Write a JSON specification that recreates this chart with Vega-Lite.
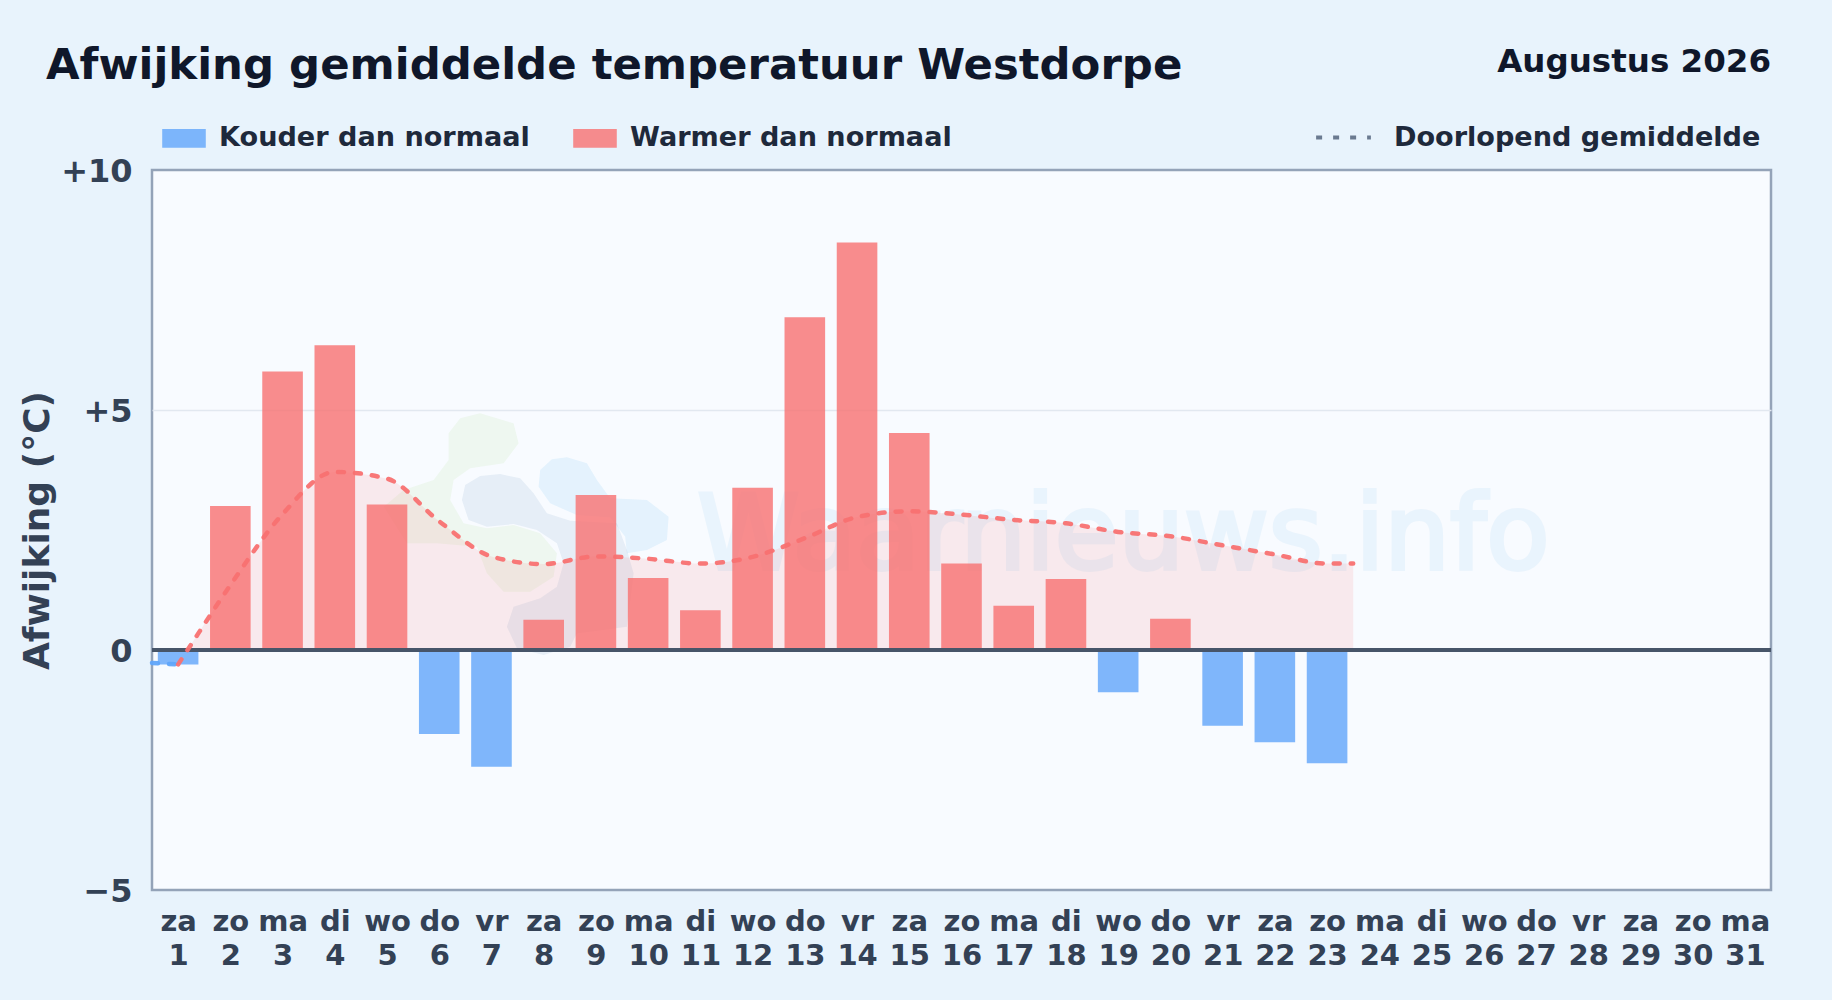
{
"$schema":"https://vega.github.io/schema/vega-lite/v6.json",
"width":1619,"height":720,
"autosize":{"type":"none"},
"padding":{"left":152,"top":170,"right":61,"bottom":110},
"background":"#e8f3fc",
"title":{"text":"Afwijking gemiddelde temperatuur Westdorpe","anchor":"start","frame":"group","dx":-106,"offset":0,"dy":76.5,"baseline":"alphabetic","font":"DejaVu Sans","fontWeight":"bold","fontSize":43.4,"color":"#0f172a"},
"config":{"view":{"fill":"#f8fbff","stroke":"#94a3b8","strokeWidth":2.5},"font":"DejaVu Sans"},
"datasets":{
"dagen":[
{"dag":1,"afwijking":-0.3,"soort":"Kouder dan normaal"},
{"dag":2,"afwijking":3.0,"soort":"Warmer dan normaal"},
{"dag":3,"afwijking":5.8,"soort":"Warmer dan normaal"},
{"dag":4,"afwijking":6.35,"soort":"Warmer dan normaal"},
{"dag":5,"afwijking":3.03,"soort":"Warmer dan normaal"},
{"dag":6,"afwijking":-1.75,"soort":"Kouder dan normaal"},
{"dag":7,"afwijking":-2.43,"soort":"Kouder dan normaal"},
{"dag":8,"afwijking":0.63,"soort":"Warmer dan normaal"},
{"dag":9,"afwijking":3.23,"soort":"Warmer dan normaal"},
{"dag":10,"afwijking":1.5,"soort":"Warmer dan normaal"},
{"dag":11,"afwijking":0.83,"soort":"Warmer dan normaal"},
{"dag":12,"afwijking":3.38,"soort":"Warmer dan normaal"},
{"dag":13,"afwijking":6.93,"soort":"Warmer dan normaal"},
{"dag":14,"afwijking":8.49,"soort":"Warmer dan normaal"},
{"dag":15,"afwijking":4.52,"soort":"Warmer dan normaal"},
{"dag":16,"afwijking":1.8,"soort":"Warmer dan normaal"},
{"dag":17,"afwijking":0.92,"soort":"Warmer dan normaal"},
{"dag":18,"afwijking":1.48,"soort":"Warmer dan normaal"},
{"dag":19,"afwijking":-0.88,"soort":"Kouder dan normaal"},
{"dag":20,"afwijking":0.65,"soort":"Warmer dan normaal"},
{"dag":21,"afwijking":-1.58,"soort":"Kouder dan normaal"},
{"dag":22,"afwijking":-1.92,"soort":"Kouder dan normaal"},
{"dag":23,"afwijking":-2.36,"soort":"Kouder dan normaal"}
],
"gemiddelde":[
{"dag":0.5,"gem":-0.27,"soort":"Kouder dan normaal","reeks":"Doorlopend gemiddelde"},
{"dag":1,"gem":-0.3,"soort":"Kouder dan normaal","reeks":"Doorlopend gemiddelde"},
{"dag":1,"gem":-0.3,"soort":"Warmer dan normaal","reeks":"Doorlopend gemiddelde"},
{"dag":1.18,"gem":0,"soort":"Warmer dan normaal","reeks":"Doorlopend gemiddelde"},
{"dag":2,"gem":1.35,"soort":"Warmer dan normaal","reeks":"Doorlopend gemiddelde"},
{"dag":3,"gem":2.83,"soort":"Warmer dan normaal","reeks":"Doorlopend gemiddelde"},
{"dag":4,"gem":3.71,"soort":"Warmer dan normaal","reeks":"Doorlopend gemiddelde"},
{"dag":5,"gem":3.57,"soort":"Warmer dan normaal","reeks":"Doorlopend gemiddelde"},
{"dag":6,"gem":2.68,"soort":"Warmer dan normaal","reeks":"Doorlopend gemiddelde"},
{"dag":7,"gem":1.95,"soort":"Warmer dan normaal","reeks":"Doorlopend gemiddelde"},
{"dag":8,"gem":1.79,"soort":"Warmer dan normaal","reeks":"Doorlopend gemiddelde"},
{"dag":9,"gem":1.95,"soort":"Warmer dan normaal","reeks":"Doorlopend gemiddelde"},
{"dag":10,"gem":1.9,"soort":"Warmer dan normaal","reeks":"Doorlopend gemiddelde"},
{"dag":11,"gem":1.8,"soort":"Warmer dan normaal","reeks":"Doorlopend gemiddelde"},
{"dag":12,"gem":1.94,"soort":"Warmer dan normaal","reeks":"Doorlopend gemiddelde"},
{"dag":13,"gem":2.33,"soort":"Warmer dan normaal","reeks":"Doorlopend gemiddelde"},
{"dag":14,"gem":2.77,"soort":"Warmer dan normaal","reeks":"Doorlopend gemiddelde"},
{"dag":15,"gem":2.89,"soort":"Warmer dan normaal","reeks":"Doorlopend gemiddelde"},
{"dag":16,"gem":2.82,"soort":"Warmer dan normaal","reeks":"Doorlopend gemiddelde"},
{"dag":17,"gem":2.71,"soort":"Warmer dan normaal","reeks":"Doorlopend gemiddelde"},
{"dag":18,"gem":2.64,"soort":"Warmer dan normaal","reeks":"Doorlopend gemiddelde"},
{"dag":19,"gem":2.46,"soort":"Warmer dan normaal","reeks":"Doorlopend gemiddelde"},
{"dag":20,"gem":2.37,"soort":"Warmer dan normaal","reeks":"Doorlopend gemiddelde"},
{"dag":21,"gem":2.18,"soort":"Warmer dan normaal","reeks":"Doorlopend gemiddelde"},
{"dag":22,"gem":1.99,"soort":"Warmer dan normaal","reeks":"Doorlopend gemiddelde"},
{"dag":23,"gem":1.8,"soort":"Warmer dan normaal","reeks":"Doorlopend gemiddelde"},
{"dag":23.5,"gem":1.8,"soort":"Warmer dan normaal","reeks":"Doorlopend gemiddelde"}
],
"logo":[{"dag":7.87,"w":2.43}]
},
"encoding":{
"x":{"field":"dag","type":"quantitative","scale":{"domain":[0.5,31.5],"nice":false,"zero":false,"padding":0},
"axis":{"values":[1,2,3,4,5,6,7,8,9,10,11,12,13,14,15,16,17,18,19,20,21,22,23,24,25,26,27,28,29,30,31],
"labelExpr":"[['za','zo','ma','di','wo','do','vr'][(datum.value-1)%7],''+datum.value]",
"title":null,"grid":false,"domain":false,"ticks":false,"labelOverlap":false,"labelFlush":false,"labelBound":false,"labelPadding":17,"labelFontSize":29,"labelLineHeight":34,"labelFont":"DejaVu Sans","labelFontWeight":"bold","labelColor":"#334155"}}
},
"layer":[
{"data":{"name":"logo"},"mark":{"type":"point","filled":true,"size":4,"color":"#a8d878","opacity":0.11,"shape":"M-56.7,-120L-23.3,-110L-18.3,-90L-33.3,-70L-66.7,-65L-83.3,-53.3L-86.7,-33.3L-73.3,-10L-50,-5L-23.3,-8.3L3.3,0L20,20L16.7,43.3L-6.7,58.3L-33.3,58.3L-50,40L-60,13.3L-100,10L-130,10L-153,-26.7L-133.3,-43.3L-103.3,-53.3L-88.3,-73.3L-88.3,-100L-76.7,-115Z"},"encoding":{"y":{"field":"w","type":"quantitative"}}},
{"data":{"name":"logo"},"mark":{"type":"point","filled":true,"size":4,"color":"#3a6ea5","opacity":0.09,"shape":"M-56.7,-57.3L-36.7,-59.3L-16.7,-55L-3.3,-40L10,-20L33.3,-12.7L80,-10L90,16.7L96.7,40L90,93.3L40,100L33.3,113.3L6.7,121.7L-20,115L-30,93.3L-23.3,73.3L3.3,65L20,53.3L26.7,30L20,10L0,-3.3L-23.3,-9.3L-50,-6.7L-68.3,-13.3L-75,-33.3L-71.7,-48.3Z"},"encoding":{"y":{"field":"w","type":"quantitative"}}},
{"data":{"name":"logo"},"mark":{"type":"point","filled":true,"size":4,"color":"#60b8f0","opacity":0.13,"shape":"M30,-76L50,-70L60,-53.3L73.3,-35L110,-33.3L131.7,-16.7L130,6.7L110,16.7L90,20L88.3,3.3L73.3,-16L40,-18.3L13.3,-30L1.7,-46.7L3.3,-63.3L15,-74Z"},"encoding":{"y":{"field":"w","type":"quantitative"}}},
{"data":{"values":[{"dag":19.1,"w":1.68,"tekst":"Waarnieuws.info"}]},"mark":{"type":"text","font":"DejaVu Sans","fontSize":103.5,"align":"center","baseline":"alphabetic","color":"#4aa8e8","stroke":"#4aa8e8","strokeWidth":4,"opacity":0.08},"encoding":{"y":{"field":"w","type":"quantitative"},"text":{"field":"tekst"}}},
{"data":{"name":"gemiddelde"},"transform":[{"filter":"datum.gem>=0"}],"mark":{"type":"area","interpolate":"monotone","color":"#f87171","opacity":0.13},"encoding":{"y":{"field":"gem","type":"quantitative"},"y2":{"datum":0}}},
{"data":{"name":"dagen"},"mark":{"type":"bar","width":40.6,"opacity":0.8},
"encoding":{
"y":{"field":"afwijking","type":"quantitative","scale":{"domain":[-5,10],"nice":false},
"axis":{"values":[-5,0,5,10],"labelExpr":"datum.value>0?'+'+datum.value:(datum.value<0?'\u2212'+abs(datum.value):'0')","title":"Afwijking (\u00b0C)","titleFont":"DejaVu Sans","titleFontWeight":"bold","titleFontSize":36,"titleColor":"#334155","titleX":-95.5,"titlePadding":10,"grid":true,"gridColor":{"condition":{"test":"datum.value===5","value":"#e2e8f0"},"value":"transparent"},"gridWidth":1.5,"domain":false,"ticks":false,"labelPadding":20,"labelOffset":1,"labelFontSize":32,"labelFont":"DejaVu Sans","labelFontWeight":"bold","labelColor":"#334155"}},
"y2":{"datum":0},
"color":{"field":"soort","type":"nominal","scale":{"domain":["Kouder dan normaal","Warmer dan normaal"],"range":["#60a5fa","#f87171"]},
"legend":{"title":null,"orient":"none","direction":"horizontal","legendX":10,"legendY":-54,"symbolType":"M-1,-0.43H1V0.43H-1Z","symbolSize":1900,"symbolOpacity":0.8,"symbolStrokeWidth":0,"labelFont":"DejaVu Sans","labelFontWeight":"bold","labelFontSize":27.1,"labelColor":"#1e293b","labelOffset":13,"columnPadding":43,"labelLimit":500}}
}},
{"data":{"values":[{"dag":0.5,"nul":0},{"dag":31.5,"nul":0}]},"mark":{"type":"line","color":"#475569","strokeWidth":4},"encoding":{"y":{"field":"nul","type":"quantitative"}}},
{"data":{"name":"gemiddelde"},"mark":{"type":"line","interpolate":"monotone","strokeWidth":4.5,"strokeCap":"round","opacity":0.95},
"encoding":{
"y":{"field":"gem","type":"quantitative"},
"stroke":{"field":"soort","type":"nominal","scale":{"domain":["Kouder dan normaal","Warmer dan normaal"],"range":["#60a5fa","#f87171"]},"legend":null},
"strokeDash":{"field":"reeks","type":"nominal","scale":{"domain":["Doorlopend gemiddelde"],"range":[[6,11]]},
"legend":{"title":null,"orient":"none","legendX":1162,"legendY":-62,"symbolType":"stroke","symbolSize":3000,"symbolStrokeColor":"#64748b","symbolStrokeWidth":4,"labelFont":"DejaVu Sans","labelFontWeight":"bold","labelFontSize":27.1,"labelColor":"#1e293b","labelOffset":21,"labelLimit":500,"encoding":{"symbols":{"update":{"strokeDash":{"value":[5,11]},"strokeCap":{"value":"butt"}}}}}}
}},
{"data":{"values":[{"dag":31.5,"w":12.05,"tekst":"Augustus 2026"}]},"mark":{"type":"text","font":"DejaVu Sans","fontWeight":"bold","fontSize":32.5,"align":"right","baseline":"alphabetic","color":"#0f172a"},"encoding":{"y":{"field":"w","type":"quantitative"},"text":{"field":"tekst"}}}
]
}
